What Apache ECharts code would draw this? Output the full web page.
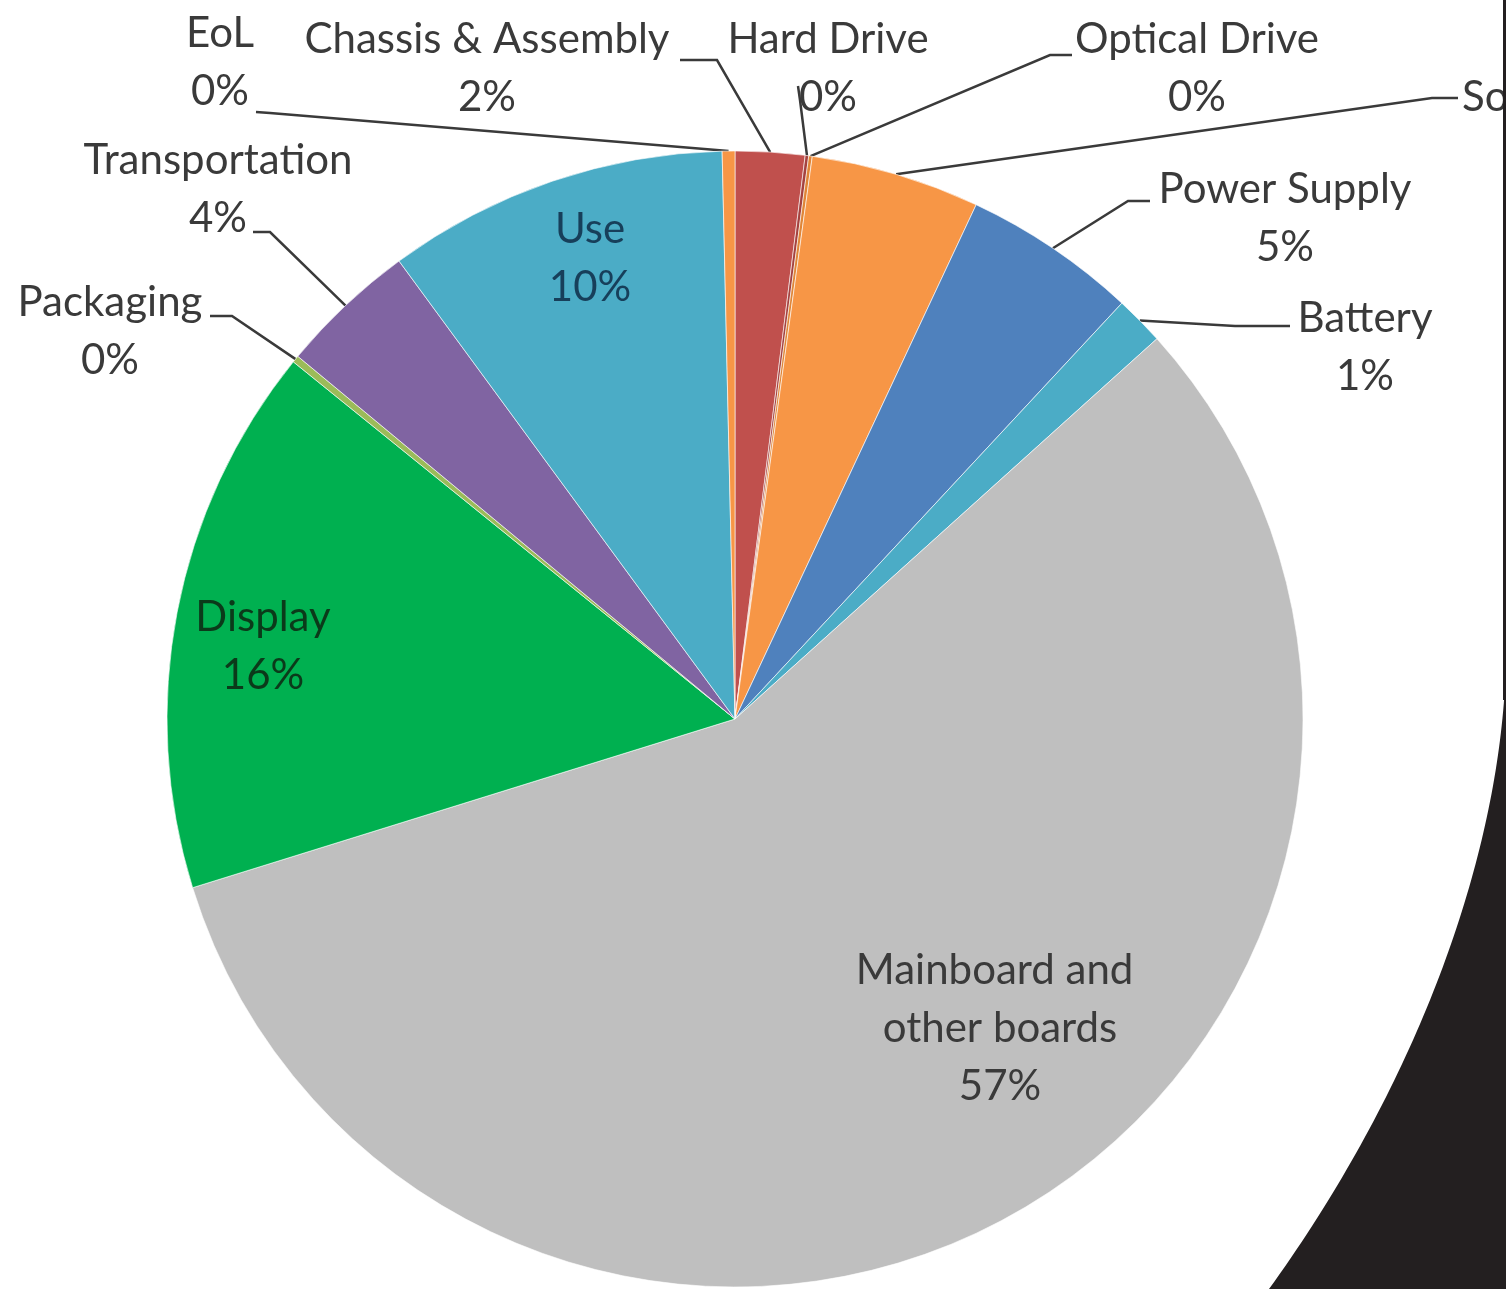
<!DOCTYPE html>
<html>
<head>
<meta charset="utf-8">
<script src="https://cdn.jsdelivr.net/npm/echarts@6/dist/echarts.min.js"></script>
<style>
html,body{margin:0;padding:0;background:#fff;}
#chart{width:1506px;height:1289px;}
</style>
</head>
<body>
<div id="chart"></div>
<script>
// ---- data ----
const categories = ['Chassis & Assembly','Hard Drive','Optical Drive','Solid State Drive','Power Supply','Battery','Mainboard and other boards','Display','Packaging','Transportation','Use','EoL'];
const shares = [1.97, 0.1, 0.1, 4.8, 4.94, 1.4, 56.8, 15.6, 0.2, 3.9, 9.7, 0.36];

// ---- styles / layout ----
const colors = ['#C0504D','#A5423F','#E08537','#F79646','#4F81BD','#4BACC6','#BFBFBF','#00B050','#9BBB59','#8064A2','#4BACC6','#F79646'];
const insideIdx = [6, 7, 10];
const insideTextColor = {6:'#3A3A3A', 7:'#0B3A1A', 10:'#173F5A'};
// label block centre (x,y); 'L' = x is left edge of the widest line
const labelPos = [
  [487, 68], [828, 68], [1197, 68], [1462, 126, 'L'], [1285, 218], [1365, 347],
  [1000, 1028], [263, 646], [110, 331], [218, 189], [590, 258], [220, 62]
];
// leader line: elbow and end points near the label
const leader = [
  [[717, 60], [680, 60]],
  [[800, 100], [798, 86]],
  [[1050, 55], [1072, 55]],
  [[1432, 98], [1458, 98]],
  [[1128, 201], [1150, 201]],
  [[1235, 326], [1290, 326]],
  null, null,
  [[232, 316], [210, 316]],
  [[270, 232], [253, 232]],
  null,
  [[270, 113], [256, 112]]
];

// decorative black corner shape (cubic bezier control points)
const decoCurve = [[1506, 660], [1502, 850], [1420, 1080], [1269, 1289]];
function bezierPts(c, n) {
  const pts = [];
  for (let k = 0; k <= n; k++) {
    const t = k / n, u = 1 - t;
    pts.push([
      u*u*u*c[0][0] + 3*u*u*t*c[1][0] + 3*u*t*t*c[2][0] + t*t*t*c[3][0],
      u*u*u*c[0][1] + 3*u*u*t*c[1][1] + 3*u*t*t*c[2][1] + t*t*t*c[3][1]
    ]);
  }
  pts.push([1506, 1289]);
  return pts;
}

const chart = echarts.init(document.getElementById('chart'));
const FONT = 'Lato';

const data = categories.map((name, i) => {
  const item = { name: name, value: shares[i], itemStyle: { color: colors[i] } };
  if (insideIdx.indexOf(i) >= 0) {
    item.label = { position: 'inside', color: insideTextColor[i] };
    item.labelLine = { show: false };
    if (i === 6) { item.label.width = 320; item.label.overflow = 'break'; }
  }
  return item;
});

chart.setOption({
  backgroundColor: '#ffffff',
  animation: false,
  graphic: [
    { type: 'rect', shape: { x: 1503, y: 0, width: 3, height: 700 }, style: { fill: '#231F20' }, z: 100 },
    { type: 'polygon', shape: { points: bezierPts(decoCurve, 80) }, style: { fill: '#231F20' }, z: 100 }
  ],
  series: [{
    type: 'pie',
    center: [735, 719],
    radius: 568,
    startAngle: 90,
    clockwise: true,
    avoidLabelOverlap: false,
    itemStyle: { borderColor: 'rgba(255,255,255,0.6)', borderWidth: 1 },
    label: {
      show: true,
      position: 'outside',
      fontFamily: FONT,
      fontSize: 42,
      lineHeight: 58,
      color: '#3A3A3A',
      align: 'center',
      formatter: p => p.name + '\n' + Math.round(p.percent) + '%'
    },
    labelLine: { show: true, length: 10, length2: 10, lineStyle: { color: '#3A3A3A', width: 2.5 } },
    labelLayout: function (params) {
      const i = params.dataIndex;
      const pos = labelPos[i];
      let x = pos[0];
      if (pos[2] === 'L') x = pos[0] + params.labelRect.width / 2;
      const res = { x: x, y: pos[1], align: 'center', verticalAlign: 'middle' };
      if (leader[i] && params.labelLinePoints) {
        res.labelLinePoints = [params.labelLinePoints[0], leader[i][0], leader[i][1]];
      }
      return res;
    },
    data: data
  }]
});
</script>
</body>
</html>
